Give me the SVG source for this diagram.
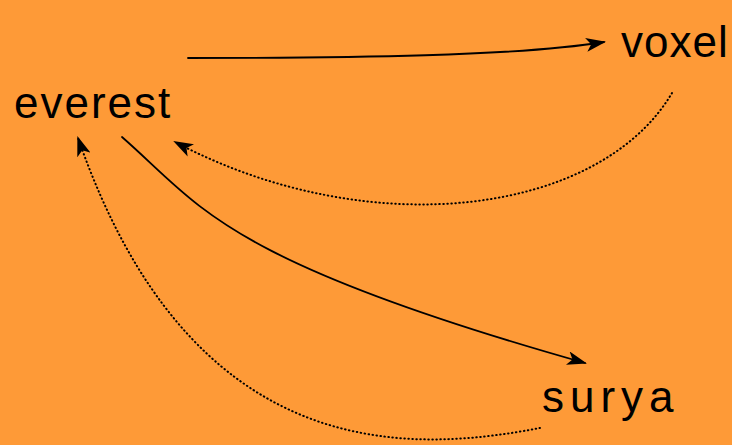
<svg xmlns="http://www.w3.org/2000/svg" width="732" height="445" viewBox="0 0 732 445">
<defs>
<style>
.lbl{font-family:"Liberation Sans","DejaVu Sans",sans-serif;font-size:44px;fill:#000;}
.edge{fill:none;stroke:#000;stroke-width:1.8;stroke-linecap:round;}
.dot{stroke-width:2;stroke-dasharray:0.5 3.5;}
</style>
<marker id="ah" viewBox="0 0 20 14" refX="18" refY="7" markerWidth="20" markerHeight="14" markerUnits="userSpaceOnUse" orient="auto">
<path d="M0,0 L20,7 L0,14 L5,7 Z" fill="#000"/>
</marker>
</defs>
<rect width="732" height="445" fill="#FE9A37"/>
<g id="connectors">
<path class="edge" d="M188 58 C 350 58, 520 56, 604 42" marker-end="url(#ah)"/>
<path class="edge dot" d="M672 93 C 600 215, 370 245, 175 142" marker-end="url(#ah)"/>
<path class="edge" d="M122 137 C 200 205, 220 260, 585 363" marker-end="url(#ah)"/>
<path class="edge dot" d="M540 428 C 400 455, 190 460, 78 138" marker-end="url(#ah)"/>
</g>
<g id="everest"><text class="lbl" x="14" y="118" letter-spacing="2">everest</text></g>
<g id="voxel"><text class="lbl" x="621" y="57" letter-spacing="1">voxel</text></g>
<g id="surya"><text class="lbl" x="542" y="412" letter-spacing="6">surya</text></g>
</svg>
